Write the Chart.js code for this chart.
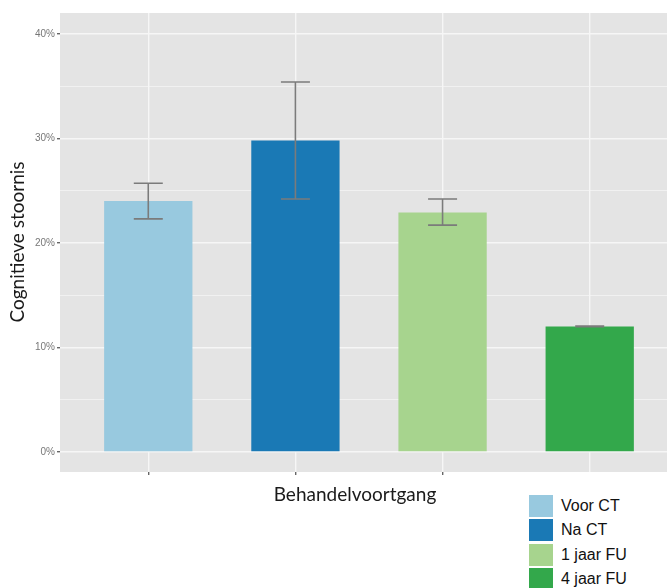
<!DOCTYPE html>
<html>
<head>
<meta charset="utf-8">
<script src="https://cdn.jsdelivr.net/npm/chart.js@4.4.1/dist/chart.umd.min.js"></script>
<style>
  html, body { margin: 0; padding: 0; background: #fff; overflow: hidden; }
  #wrap { position: relative; width: 667px; height: 588px; overflow: hidden; }
  #legend {
    position: absolute; left: 525px; top: 472px; width: 122px; height: 116px;
    background: #fff; font-family: "Liberation Sans", Arial, sans-serif; font-size: 16px; color: #111;
  }
  .item { position: absolute; left: 4px; height: 22px; line-height: 22px; white-space: nowrap; }
  .item span { display: inline-block; width: 24px; height: 22px; vertical-align: top; margin-right: 8px; }
</style>
</head>
<body>
<div id="wrap">
  <canvas id="chart" width="678" height="588"></canvas>
  <div id="legend"></div>
</div>
<script>
// === DATOS ===
const categories = ["Voor CT", "Na CT", "1 jaar FU", "4 jaar FU"];
const values = [24.0, 29.8, 22.9, 12.0];
const errLow = [22.3, 24.2, 21.7, 11.97];
const errHigh = [25.7, 35.4, 24.2, 12.03];
const yTicks = [0, 5, 10, 15, 20, 25, 30, 35, 40];
const colors = ["#98c9df", "#1a79b5", "#a7d48e", "#33a84b"];

// === FONDO DEL PANEL ===
const panelBg = {
  id: "panelBg",
  beforeDraw(chart) {
    const a = chart.chartArea, ctx = chart.ctx;
    ctx.save();
    ctx.fillStyle = "#e4e4e4";
    ctx.fillRect(a.left, a.top, a.right - a.left, a.bottom - a.top);
    ctx.restore();
  },
};

// === BARRAS DE ERROR ===
const errorBars = {
  id: "errorBars",
  afterDatasetsDraw(chart) {
    const ctx = chart.ctx, x = chart.scales.x, y = chart.scales.y;
    ctx.save();
    ctx.strokeStyle = "#7b7b7b";
    ctx.lineWidth = 1.6;
    categories.forEach((c, i) => {
      const px = x.getPixelForValue(i);
      const lo = y.getPixelForValue(errLow[i]);
      const hi = y.getPixelForValue(errHigh[i]);
      const half = 14.5;
      ctx.beginPath();
      ctx.moveTo(px, lo); ctx.lineTo(px, hi);
      ctx.moveTo(px - half, lo); ctx.lineTo(px + half, lo);
      ctx.moveTo(px - half, hi); ctx.lineTo(px + half, hi);
      ctx.stroke();
    });
    ctx.restore();
  },
};

// === TÍTULOS DE EJES ===
const axisTitles = {
  id: "axisTitles",
  afterDraw(chart) {
    const ctx = chart.ctx;
    ctx.save();
    ctx.fillStyle = "#1a1a1a";
    ctx.font = "19px Lato";
    ctx.textAlign = "center";
    ctx.textBaseline = "middle";
    ctx.fillText("Behandelvoortgang", 355, 495);
    ctx.translate(18, 242);
    ctx.rotate(-Math.PI / 2);
    ctx.fillText("Cognitieve stoornis", 0, 0);
    ctx.restore();
  },
};

new Chart(document.getElementById("chart"), {
  type: "bar",
  data: {
    datasets: [{
      data: values.map((v, i) => ({ x: i, y: v })),
      backgroundColor: colors,
      borderWidth: 0,
      categoryPercentage: 1,
      barPercentage: 0.6,
    }],
  },
  options: {
    responsive: false,
    animation: false,
    layout: { padding: { top: 13, left: 0, right: 0, bottom: 0 } },
    plugins: { legend: { display: false }, tooltip: { enabled: false } },
    scales: {
      x: {
        type: "linear",
        min: -0.6,
        max: 3.6,
        offset: false,
        afterBuildTicks: s => { s.ticks = categories.map((c, i) => ({ value: i })); },
        afterFit: s => { s.height = 116; },
        ticks: { display: false },
        grid: { offset: false, color: "#f6f6f6", lineWidth: 1.4, tickLength: 3, tickColor: "#666" },
        border: { display: false },
      },
      y: {
        min: -1.93,
        max: 42.0,
        afterBuildTicks: s => { s.ticks = yTicks.map(v => ({ value: v })); },
        afterFit: s => { s.width = 60; },
        ticks: {
          padding: 2,
          color: "#777",
          font: { family: "Liberation Sans", size: 10 },
          callback: v => (v % 10 === 0 ? v + "%" : ""),
        },
        grid: {
          color: "#f6f6f6",
          lineWidth: c => (c.tick && c.tick.value % 10 === 0 ? 1.4 : 0.7),
          tickLength: 3,
          tickColor: c => (c.tick && c.tick.value % 10 === 0 ? "#666" : "rgba(0,0,0,0)"),
        },
        border: { display: false },
      },
    },
  },
  plugins: [panelBg, errorBars, axisTitles],
});

// === LEYENDA ===
const legendEl = document.getElementById("legend");
categories.forEach((c, i) => {
  const d = document.createElement("div");
  d.className = "item";
  d.style.top = (23 + i * 24.3) + "px";
  d.innerHTML = '<span style="background:' + colors[i] + '"></span>' + c;
  legendEl.appendChild(d);
});
</script>
</body>
</html>
